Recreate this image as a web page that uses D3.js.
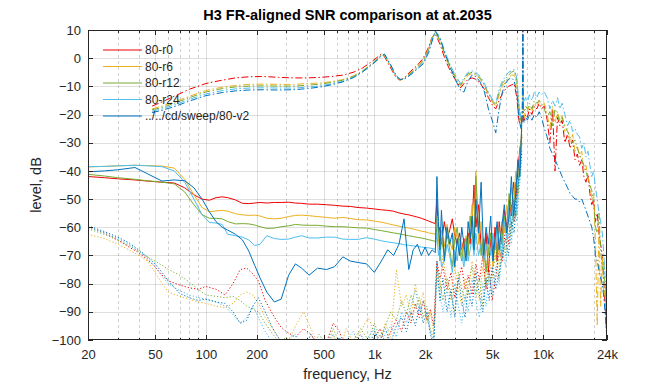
<!DOCTYPE html>
<html lang="en">
<head>
<meta charset="utf-8">
<title>H3 FR-aligned SNR comparison</title>
<script src="https://d3js.org/d3.v7.min.js"></script>
<style>
  body { margin: 0; background: #fff; }
  svg text { font-family: "Liberation Sans", Arial, Helvetica, sans-serif; fill: #262626; }
  .grid line { stroke: #262626; stroke-opacity: 0.15; shape-rendering: crispEdges; }
  .grid.minor line { stroke-opacity: 0.22; stroke-dasharray: 3,3; }
  .grid path { display: none; }
  .ax path { display: none; }
  .ax line { stroke: #262626; shape-rendering: crispEdges; }
  .ax text { font-size: 13px; }
  .curve { fill: none; stroke-width: 1; }
</style>
</head>
<body>
<script>
// ---- data ----
var names = ["80-r0", "80-r6", "80-r12", "80-r24", "../../cd/sweep/80-v2"];
var colors = ["#f00000", "#EDB120", "#77AC30", "#4DBEEE", "#0072BD"];

// frequency response (dash-dot)
var frFreq = [48, 55, 65, 80, 100, 125, 150, 180, 220, 270,
  330, 400, 480, 560, 650, 750, 850, 950, 1050, 1100,
  1150, 1250, 1350, 1420, 1500, 1650, 1800, 1950, 2100, 2200,
  2300, 2450, 2650, 2850, 3050, 3250, 3400, 3600, 3800, 4000,
  4250, 4500, 4750, 5000, 5250, 5500, 5750, 6000, 6250, 6500,
  6750, 7000, 7200, 7400, 7550, 7600, 7650, 7750, 7900, 8100,
  8300, 8600, 8900, 9200, 9500, 9800, 10200, 10600, 11000, 11400,
  11800, 12200, 12600, 13000, 13500, 14000, 14500, 15000, 15500, 16000,
  16500, 17000, 17500, 18000, 18500, 19000, 19500, 20000, 20500, 21000,
  21500, 22000, 22500, 23000, 23500, 24000];
var frR0 = [-17, -15.5, -13.5, -11, -9, -7.8, -7, -6.6, -6.5, -6.8,
  -7, -7, -6.8, -6.5, -6, -5, -3.5, -1.5, 0.5, 1.5,
  0.5, -3.5, -7, -7.8, -7, -4.5, -2.5, 0, 4, 7.5,
  8.5, 5, -1, -5, -8, -10.5, -9, -7.5, -7, -7.5,
  -9, -11, -14, -16.5, -18, -15, -12.5, -11, -10, -9.5,
  -9, -14, -22, -24, -22, 12, -20, -22, -20, -21,
  -18, -20, -17, -18, -16, -18, -17, -22, -30, -18,
  -40, -21, -24, -22, -30, -27, -32, -29, -36, -34,
  -38, -36, -42, -44, -41, -48, -52, -50, -58, -55,
  -62, -66, -70, -80, -90, -100];
var frR6 = [-18, -17, -15.5, -13.5, -11.5, -10.3, -9.7, -9.3, -9.2, -9.3,
  -9.3, -9, -8.8, -8.3, -7.6, -6.3, -4.5, -2.3, 0, 1.3,
  0.8, -3, -6.8, -7.8, -7.2, -5, -3, -0.5, 3.5, 7.5,
  9, 6, 0, -4, -7.5, -10, -8, -6, -5.5, -6,
  -7.5, -10, -13, -15.5, -17, -13, -10, -8.5, -7, -6,
  -6, -9, -18, -23, -20, -12, -19, -21, -18, -19,
  -17, -19, -16, -17, -15, -17, -16, -20, -25, -17,
  -23, -19, -22, -20, -26, -25, -30, -27, -33, -31,
  -35, -33, -40, -38, -42, -45, -50, -48, -65, -95,
  -60, -88, -70, -85, -80, -100];
var frR12 = [-18.3, -17.5, -16, -14, -12, -10.8, -10.2, -9.9, -9.8, -9.9,
  -9.9, -9.6, -9.2, -8.6, -7.8, -6.5, -4.6, -2.4, -0.2, 1.2,
  1, -2.8, -6.6, -7.7, -7.3, -5.3, -3.3, -1, 3, 7,
  9.2, 6.5, 0.5, -3.5, -7, -9.5, -7.5, -5.5, -5, -5.5,
  -7, -9.5, -12.5, -15, -16.5, -12, -9, -7.5, -6, -5,
  -4.5, -8, -17, -22, -19, -10, -18, -19, -17, -18,
  -16, -18, -15, -16, -15, -16, -18, -21, -19, -24,
  -18, -20, -23, -21, -24, -26, -28, -30, -29, -32,
  -34, -36, -38, -40, -43, -45, -47, -52, -60, -62,
  -55, -68, -75, -72, -85, -100];
var frR24 = [-18.8, -18, -16.6, -14.6, -12.7, -11.5, -10.9, -10.6, -10.5, -10.6,
  -10.6, -10.3, -9.8, -9.1, -8.2, -6.8, -4.8, -2.6, -0.3, 1,
  1.3, -2.5, -6.4, -7.6, -7.4, -5.6, -3.6, -1.5, 2.5, 6.5,
  9.8, 7.5, 1.5, -3, -6.5, -9, -7, -5, -4.5, -5,
  -6.5, -9, -12, -14.5, -16, -11, -8, -6.5, -5, -4.5,
  -4, -7, -16, -21, -18, 8, -17, -15, -14, -16,
  -13, -15, -12, -14, -12, -13, -12, -14, -18, -15,
  -17, -14, -18, -16, -20, -24, -22, -26, -25, -27,
  -28, -32, -30, -35, -33, -38, -42, -40, -46, -50,
  -55, -58, -62, -70, -80, -95];
var frV2 = [-19.3, -18.5, -17.2, -15.2, -13.3, -12.2, -11.6, -11.3, -11.2, -11.3,
  -11.2, -10.8, -10.2, -9.4, -8.4, -6.9, -4.9, -2.7, -0.5, 0.8,
  1.4, -2.4, -6.2, -7.5, -7.5, -5.8, -3.8, -2, 2, 6,
  9.5, 7, 1, -4, -8, -11.5, -12, -8, -6, -6.5,
  -8.5, -12, -18, -22, -26.5, -18, -12, -9, -7.5, -7,
  -8, -12, -21, -25, -20, 12, -22, -23, -21, -22,
  -20, -22, -20, -21, -19, -21, -25, -28, -32, -34,
  -36, -38, -40, -42, -44, -46, -48, -49, -50, -50,
  -51, -50, -52, -54, -56, -58, -60, -64, -70, -72,
  -75, -78, -80, -85, -92, -100];

// noise floor (solid)
var nfFreq = [20, 25, 30, 38, 45, 55, 65, 75, 85, 95,
  105, 115, 125, 135, 150, 165, 180, 195, 210, 230,
  255, 280, 310, 340, 370, 410, 460, 520, 580, 650,
  720, 800, 900, 1000, 1100, 1200, 1300, 1400, 1500, 1600,
  1700, 1800, 1900, 2000, 2100, 2200, 2300,
  2350, 2400, 2450, 2500, 2600, 2700, 2800, 2900, 3000, 3100,
  3200, 3300, 3400, 3500, 3600, 3700, 3800, 3900, 4000, 4150,
  4300, 4450, 4600, 4750, 4900, 5050, 5200, 5350, 5500, 5700,
  5900, 6100, 6300, 6500, 6700, 6900, 7100, 7300, 7500];
var nfR0 = [-42, -42.4, -42.8, -43.2, -43.6, -44, -44.3, -46, -48.5, -50,
  -50.4, -49.5, -49.2, -49.5, -50.3, -51.5, -51.6, -51.4, -51.2, -51.4,
  -51.2, -51.2, -51.1, -51.4, -51.5, -51.8, -51.8, -52, -52.2, -52.5,
  -52.6, -53, -53.2, -53.5, -53.8, -54, -54.3, -54.9, -55.3, -55.6,
  -56, -56.4, -56.8, -57.3, -57.8, -58.3, -58.7,
  -50, -62, -60, -66, -58, -64, -61, -57, -63, -66,
  -62, -68, -64, -70, -62, -66, -58, -45, -60, -52,
  -67, -72, -62, -76, -64, -70, -60, -72, -58, -66,
  -54, -60, -50, -56, -44, -50, -40, -32, -28];
var nfR6 = [-38.6, -38.4, -38.2, -38, -38.1, -38.3, -39, -43, -48.5, -53,
  -54.5, -54.2, -54, -54.3, -55.2, -55.6, -55.8, -55.7, -56, -56.8,
  -57, -56.8, -56.2, -55.8, -55.7, -55.9, -56.2, -56.5, -56.8, -56.5,
  -56.9, -57.3, -57.4, -57.8, -58.2, -58.7, -59.2, -59.6, -60, -60.3,
  -60.6, -61, -61.4, -61.6, -62, -62.2, -62.5,
  -56, -64, -70, -61, -67, -59, -65, -68, -60, -64,
  -70, -66, -72, -63, -68, -60, -52, -64, -40, -66,
  -58, -74, -66, -70, -62, -74, -66, -60, -70, -58,
  -62, -52, -58, -46, -52, -40, -46, -34, -25];
var nfR12 = [-41.2, -41.8, -42.4, -43, -43.5, -44, -44.6, -47.5, -52, -55.5,
  -56.8, -56.8, -57, -58, -58.8, -58.7, -58.8, -59.2, -59.8, -60.4,
  -60.3, -59.8, -59.5, -59, -59.2, -59.3, -59.3, -59.6, -59.8, -59.8,
  -60, -60.2, -60.3, -60.8, -61.2, -61.6, -62, -62.3, -62.7, -63,
  -63.3, -63.6, -63.8, -64.1, -64.4, -64.7, -65,
  -60, -58, -72, -64, -70, -62, -68, -74, -64, -60,
  -68, -72, -66, -64, -70, -56, -62, -68, -42, -60,
  -70, -64, -76, -68, -62, -72, -64, -70, -60, -66,
  -56, -62, -48, -54, -58, -44, -48, -36, -27];
var nfR24 = [-38.5, -38.4, -38.2, -38, -38.2, -38.5, -40, -44, -50, -55.5,
  -58.3, -58.5, -59, -62.5, -63, -63.5, -64.5, -66.5, -66, -63,
  -64, -64.3, -64.2, -63.5, -63, -63.8, -63.8, -63.5, -63.5, -64.2,
  -64.3, -64.3, -63.7, -64.2, -64.8, -65.2, -65.5, -65.8, -66.2, -66.4,
  -66.6, -66.8, -67, -67.2, -67.3, -67.5, -67.8,
  -62, -70, -66, -74, -72, -66, -70, -76, -68, -72,
  -64, -70, -74, -66, -72, -68, -64, -70, -62, -70,
  -66, -72, -68, -64, -70, -62, -68, -60, -64, -70,
  -58, -64, -52, -60, -50, -56, -46, -38, -30];
var nfV2 = [-40.3, -40, -39.6, -38.8, -41, -43.6, -43.2, -43.5, -46, -50,
  -54.5, -58, -60, -61, -62.5, -64.5, -68.5, -73.5, -78, -83,
  -86.5, -85.5, -77, -73, -74.5, -77, -74.5, -75, -74, -70.5,
  -72, -72.5, -73, -76, -72, -68, -70, -66, -57, -75,
  -68, -66, -70, -67, -70, -68, -69,
  -42, -58, -68, -54, -72, -60, -66, -62, -74, -64,
  -70, -60, -66, -72, -58, -64, -56, -68, -50, -62,
  -44, -70, -60, -66, -56, -72, -64, -58, -68, -60,
  -52, -62, -56, -42, -56, -48, -36, -42, -22];

// distortion (dotted)
var dsFreq = [20, 25, 30, 35, 40, 45, 50, 55, 60, 70,
  80, 90, 100, 115, 130, 145, 160, 175, 190, 205,
  225, 250, 275, 300, 340, 380, 420, 470, 520, 570,
  620, 680, 750, 830, 920, 1000, 1080, 1160, 1250, 1350,
  1450, 1550, 1650, 1750, 1850, 1950, 2050, 2150, 2250, 2350,
  2450, 2550, 2700, 2850, 3000, 3150, 3300, 3450, 3600, 3800,
  4000, 4200, 4400, 4600, 4800, 5000, 5250, 5500, 5750, 6000,
  6250, 6500, 6750, 7000, 7250, 7500];
var dsR0 = [-60, -62, -64.5, -67, -69, -71.5, -74, -77, -79, -80.5,
  -81.5, -82, -81, -82, -84, -80, -75, -74.5, -76.5, -79,
  -86, -91, -95, -97, -99, -96, -98, -102, -101, -94,
  -97, -103, -105, -104, -106, -99, -96, -101, -97, -93,
  -97, -90, -94, -87, -92, -86, -93, -89, -95, -72,
  -78, -74, -82, -76, -85, -79, -74, -82, -77, -84,
  -73, -79, -70, -82, -75, -86, -78, -68, -72, -60,
  -66, -52, -58, -44, -38, -30];
var dsR6 = [-62.5, -64, -66, -68, -70, -72, -76, -80, -83, -84.5,
  -85.5, -86.5, -87, -88, -88.5, -87, -84, -83, -84, -87,
  -92, -96, -100, -103, -95, -90, -96, -102, -105, -98,
  -104, -96, -101, -97, -92, -97, -101, -94, -99, -75,
  -88, -84, -92, -80, -88, -83, -94, -90, -98, -76,
  -82, -70, -80, -86, -74, -82, -88, -78, -84, -72,
  -80, -86, -74, -80, -70, -78, -66, -74, -62, -68,
  -56, -62, -48, -52, -40, -32];
var dsR12 = [-60.5, -62.5, -64.5, -66.5, -68.5, -70.5, -72, -73.5, -75, -77,
  -79.5, -82, -84, -84.5, -85, -84.5, -86, -88, -89, -90,
  -94, -98, -101, -99, -103, -100, -104, -98, -102, -96,
  -101, -105, -100, -96, -100, -94, -99, -95, -90, -93,
  -86, -91, -84, -89, -85, -92, -88, -96, -100, -74,
  -80, -86, -78, -84, -90, -76, -82, -86, -80, -74,
  -84, -78, -88, -72, -80, -76, -70, -78, -64, -70,
  -58, -64, -50, -56, -42, -34];
var dsR24 = [-60, -62, -64, -66, -68.5, -71, -74, -77.5, -80, -82.5,
  -84, -85, -85.5, -86.5, -88, -91, -94, -92, -88, -92,
  -97, -101, -104, -100, -98, -103, -100, -105, -101, -98,
  -103, -100, -97, -104, -99, -96, -102, -98, -95, -99,
  -90, -94, -88, -82, -90, -86, -92, -97, -101, -78,
  -84, -90, -82, -92, -80, -88, -94, -84, -90, -78,
  -86, -92, -80, -88, -76, -84, -74, -80, -68, -74,
  -62, -66, -54, -58, -46, -36];
var dsV2 = [-59.5, -61.5, -63.5, -65.5, -68, -70.5, -73, -76, -79, -83.5,
  -85, -86, -85.5, -86.5, -87, -90, -94, -93, -88, -85,
  -90, -96, -100, -103, -101, -104, -98, -103, -100, -104,
  -99, -104, -101, -98, -103, -97, -100, -96, -101, -95,
  -92, -97, -90, -95, -88, -94, -90, -98, -102, -72,
  -86, -78, -90, -82, -92, -78, -86, -92, -82, -88,
  -76, -84, -90, -78, -86, -74, -82, -76, -70, -64,
  -70, -58, -62, -48, -42, -33];

var xTicks = [20, 50, 100, 200, 500, 1000, 2000, 5000, 10000, 24000];
var xTickLabels = ["20", "50", "100", "200", "500", "1k", "2k", "5k", "10k", "24k"];
var yTicks = [-100, -90, -80, -70, -60, -50, -40, -30, -20, -10, 0, 10];

// ---- layout ----
var w = 672, h = 384;
var pL = 88, pR = 607, pT = 30, pB = 340;

var svg = d3.select("body").append("svg")
  .attr("width", w)
  .attr("height", h);

var x = d3.scaleLog().domain([20, 24000]).range([pL, pR]);
var y = d3.scaleLinear().domain([-100, 10]).range([pB, pT]);

// minor log positions between the ends
var xMinor = [];
[10, 100, 1000, 10000].forEach(function(dec) {
  for (var k = 2; k <= 9; k++) {
    var v = k * dec;
    if (v > 20 && v < 24000) xMinor.push(v);
  }
});

// grid
svg.append("g")
  .attr("class", "grid minor")
  .attr("transform", "translate(0," + pB + ")")
  .call(d3.axisBottom(x).tickValues(xMinor.filter(function(v) { return xTicks.indexOf(v) < 0; }))
    .tickSize(-(pB - pT)).tickFormat(""));
svg.append("g")
  .attr("class", "grid")
  .attr("transform", "translate(0," + pB + ")")
  .call(d3.axisBottom(x).tickValues(xTicks.slice(1, -1)).tickSize(-(pB - pT)).tickFormat(""));
svg.append("g")
  .attr("class", "grid")
  .attr("transform", "translate(" + pL + ",0)")
  .call(d3.axisLeft(y).tickValues(yTicks.slice(1, -1)).tickSize(-(pR - pL)).tickFormat(""));

// curves
svg.append("clipPath").attr("id", "plotclip")
  .append("rect")
  .attr("x", pL).attr("y", pT)
  .attr("width", pR - pL).attr("height", pB - pT);

var plot = svg.append("g").attr("clip-path", "url(#plotclip)");

function pairs(freqs, vals) {
  return freqs.map(function(f, i) { return [f, vals[i]]; });
}

var line = d3.line()
  .x(function(d) { return x(d[0]); })
  .y(function(d) { return y(d[1]); });

var frSets = [frR0, frR6, frR12, frR24, frV2];
var nfSets = [nfR0, nfR6, nfR12, nfR24, nfV2];
var dsSets = [dsR0, dsR6, dsR12, dsR24, dsV2];

names.forEach(function(name, i) {
  plot.append("path")
    .attr("class", "curve")
    .attr("d", line(pairs(nfFreq, nfSets[i])))
    .style("stroke", colors[i]);
  plot.append("path")
    .attr("class", "curve")
    .attr("d", line(pairs(frFreq, frSets[i])))
    .style("stroke", colors[i])
    .style("stroke-dasharray", "7,2.5,1.5,2.5");
  plot.append("path")
    .attr("class", "curve")
    .attr("d", line(pairs(dsFreq, dsSets[i])))
    .style("stroke", colors[i])
    .style("stroke-dasharray", "1.2,2");
});

// axes
svg.append("g")
  .attr("class", "ax")
  .attr("transform", "translate(0," + pB + ")")
  .call(d3.axisBottom(x).tickValues(xTicks)
    .tickFormat(function(d, i) { return xTickLabels[i]; })
    .tickSizeInner(-5).tickSizeOuter(0).tickPadding(10));
svg.append("g")
  .attr("class", "ax")
  .attr("transform", "translate(0," + pB + ")")
  .call(d3.axisBottom(x).tickValues(xMinor).tickFormat("").tickSizeInner(-2.5).tickSizeOuter(0));
svg.append("g")
  .attr("class", "ax")
  .attr("transform", "translate(0," + pT + ")")
  .call(d3.axisTop(x).tickValues(xTicks).tickFormat("").tickSizeInner(-5).tickSizeOuter(0));
svg.append("g")
  .attr("class", "ax")
  .attr("transform", "translate(0," + pT + ")")
  .call(d3.axisTop(x).tickValues(xMinor).tickFormat("").tickSizeInner(-2.5).tickSizeOuter(0));
svg.append("g")
  .attr("class", "ax")
  .attr("transform", "translate(" + pL + ",0)")
  .call(d3.axisLeft(y).tickValues(yTicks).tickSizeInner(-5).tickSizeOuter(0).tickPadding(7));
svg.append("g")
  .attr("class", "ax")
  .attr("transform", "translate(" + pR + ",0)")
  .call(d3.axisRight(y).tickValues(yTicks).tickFormat("").tickSizeInner(-5).tickSizeOuter(0));

svg.append("rect")
  .attr("x", pL + 0.5).attr("y", pT + 0.5)
  .attr("width", pR - pL - 1).attr("height", pB - pT - 1)
  .style("fill", "none")
  .style("stroke", "#262626")
  .style("stroke-width", 1);

// legend (no box)
var legend = svg.selectAll("g.legend")
  .data(names)
  .enter().append("g")
  .attr("class", "legend")
  .attr("transform", function(d, i) { return "translate(103," + (50 + i * 16.5) + ")"; });
legend.append("line")
  .attr("x1", 0).attr("x2", 39)
  .style("stroke", function(d, i) { return colors[i]; })
  .style("stroke-width", 1);
legend.append("text")
  .attr("x", 42)
  .attr("dy", "0.35em")
  .style("font-size", "12px")
  .text(function(d) { return d; });

// titles
svg.append("text")
  .attr("x", (pL + pR) / 2)
  .attr("y", 20)
  .attr("text-anchor", "middle")
  .style("font-size", "14.5px")
  .style("font-weight", "bold")
  .style("fill", "#000")
  .text("H3 FR-aligned SNR comparison at at.2035");

svg.append("text")
  .attr("x", (pL + pR) / 2)
  .attr("y", 379)
  .attr("text-anchor", "middle")
  .style("font-size", "14.5px")
  .text("frequency, Hz");

svg.append("text")
  .attr("transform", "translate(41," + (pT + pB) / 2 + ") rotate(-90)")
  .attr("text-anchor", "middle")
  .style("font-size", "14.5px")
  .text("level, dB");
</script>
</body>
</html>
